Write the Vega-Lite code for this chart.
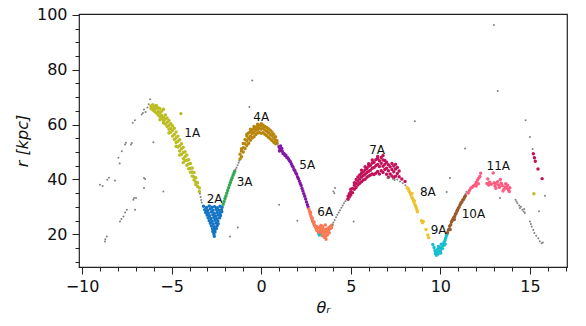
{
"$schema": "https://vega.github.io/schema/vega-lite/v6.json",
"width": 488, "height": 253,
"autosize": {"type": "none"},
"padding": {"left": 79, "top": 14, "right": 19, "bottom": 59},
"background": "white",
"config": {"view": {"stroke": "#222", "strokeWidth": 1.2}, "font": "DejaVu Sans"},
"datasets": {
"pts": [
{"t":-9.0,"r":38.1,"g":"x"},{"t":-8.85,"r":37.6,"g":"x"},{"t":-8.59,"r":39.9,"g":"x"},{"t":-8.5,"r":40.6,"g":"x"},{"t":-8.16,"r":39.6,"g":"x"},{"t":-7.97,"r":47.9,"g":"x"},{"t":-7.9,"r":45.8,"g":"x"},{"t":-7.78,"r":50.3,"g":"x"},{"t":-7.6,"r":52.7,"g":"x"},{"t":-7.55,"r":53.4,"g":"x"},{"t":-7.27,"r":52.7,"g":"x"},{"t":-7.22,"r":53.3,"g":"x"},{"t":-7.17,"r":60.7,"g":"x"},{"t":-7.05,"r":61.6,"g":"x"},{"t":-6.67,"r":63.7,"g":"x"},{"t":-6.6,"r":64.2,"g":"x"},{"t":-6.54,"r":65.5,"g":"x"},{"t":-6.45,"r":64.6,"g":"x"},{"t":-6.35,"r":66.2,"g":"x"},{"t":-6.28,"r":67.4,"g":"x"},{"t":-6.2,"r":69.2,"g":"x"},{"t":-6.15,"r":66.5,"g":"x"},
{"t":-8.72,"r":17.4,"g":"x"},{"t":-8.7,"r":18.2,"g":"x"},{"t":-8.62,"r":19.2,"g":"x"},{"t":-7.88,"r":24.7,"g":"x"},{"t":-7.8,"r":25.6,"g":"x"},{"t":-7.69,"r":26.5,"g":"x"},{"t":-7.6,"r":28,"g":"x"},{"t":-7.5,"r":29,"g":"x"},{"t":-7.14,"r":32.6,"g":"x"},{"t":-7.1,"r":33.2,"g":"x"},{"t":-7.04,"r":29,"g":"x"},{"t":-6.99,"r":33.2,"g":"x"},{"t":-6.54,"r":36.9,"g":"x"},{"t":-6.54,"r":40.5,"g":"x"},{"t":-6.48,"r":40.2,"g":"x"},{"t":-5.46,"r":35.6,"g":"x"},{"t":-6.02,"r":53.6,"g":"x"},
{"t":-6.15,"r":66.8,"g":"1A"},{"t":-6.15,"r":65.9,"g":"1A"},{"t":-6.05,"r":67.2,"g":"1A"},{"t":-6.05,"r":66.0,"g":"1A"},{"t":-6.05,"r":65.3,"g":"1A"},{"t":-5.95,"r":66.7,"g":"1A"},{"t":-5.95,"r":65.5,"g":"1A"},{"t":-5.95,"r":64.8,"g":"1A"},{"t":-5.85,"r":67.0,"g":"1A"},{"t":-5.85,"r":65.9,"g":"1A"},{"t":-5.85,"r":64.2,"g":"1A"},{"t":-5.75,"r":66.1,"g":"1A"},{"t":-5.75,"r":64.8,"g":"1A"},{"t":-5.75,"r":63.5,"g":"1A"},{"t":-5.65,"r":65.8,"g":"1A"},{"t":-5.65,"r":64.3,"g":"1A"},{"t":-5.65,"r":62.9,"g":"1A"},{"t":-5.65,"r":61.8,"g":"1A"},{"t":-5.55,"r":64.9,"g":"1A"},{"t":-5.55,"r":63.4,"g":"1A"},{"t":-5.55,"r":62.2,"g":"1A"},{"t":-5.45,"r":65.6,"g":"1A"},{"t":-5.45,"r":62.7,"g":"1A"},{"t":-5.45,"r":61.4,"g":"1A"},{"t":-5.45,"r":60.6,"g":"1A"},{"t":-5.35,"r":63.5,"g":"1A"},{"t":-5.35,"r":61.9,"g":"1A"},{"t":-5.35,"r":60.2,"g":"1A"},{"t":-5.25,"r":62.4,"g":"1A"},{"t":-5.25,"r":60.8,"g":"1A"},{"t":-5.25,"r":59.3,"g":"1A"},{"t":-5.15,"r":61.5,"g":"1A"},{"t":-5.15,"r":59.7,"g":"1A"},{"t":-5.15,"r":58.3,"g":"1A"},{"t":-5.15,"r":56.9,"g":"1A"},{"t":-5.05,"r":60.4,"g":"1A"},{"t":-5.05,"r":58.6,"g":"1A"},{"t":-5.05,"r":57.2,"g":"1A"},{"t":-4.95,"r":59.6,"g":"1A"},{"t":-4.95,"r":57.9,"g":"1A"},{"t":-4.95,"r":55.8,"g":"1A"},{"t":-4.85,"r":58.7,"g":"1A"},{"t":-4.85,"r":56.4,"g":"1A"},{"t":-4.85,"r":54.6,"g":"1A"},{"t":-4.75,"r":57.3,"g":"1A"},{"t":-4.75,"r":55.2,"g":"1A"},{"t":-4.75,"r":53.5,"g":"1A"},{"t":-4.75,"r":52.1,"g":"1A"},{"t":-4.65,"r":55.8,"g":"1A"},{"t":-4.65,"r":53.9,"g":"1A"},{"t":-4.65,"r":51.8,"g":"1A"},{"t":-4.55,"r":54.5,"g":"1A"},{"t":-4.55,"r":52.3,"g":"1A"},{"t":-4.55,"r":50.4,"g":"1A"},{"t":-4.55,"r":48.9,"g":"1A"},{"t":-4.45,"r":53.0,"g":"1A"},{"t":-4.45,"r":51.2,"g":"1A"},{"t":-4.45,"r":49.1,"g":"1A"},{"t":-4.35,"r":51.7,"g":"1A"},{"t":-4.35,"r":49.8,"g":"1A"},{"t":-4.35,"r":47.6,"g":"1A"},{"t":-4.35,"r":46.2,"g":"1A"},{"t":-4.25,"r":50.1,"g":"1A"},{"t":-4.25,"r":48.3,"g":"1A"},{"t":-4.25,"r":46.8,"g":"1A"},{"t":-4.15,"r":48.9,"g":"1A"},{"t":-4.15,"r":47.0,"g":"1A"},{"t":-4.15,"r":45.2,"g":"1A"},{"t":-4.05,"r":47.2,"g":"1A"},{"t":-4.05,"r":45.6,"g":"1A"},{"t":-4.05,"r":43.9,"g":"1A"},{"t":-3.95,"r":45.8,"g":"1A"},{"t":-3.95,"r":44.1,"g":"1A"},{"t":-3.95,"r":42.6,"g":"1A"},{"t":-3.85,"r":44.2,"g":"1A"},{"t":-3.85,"r":42.7,"g":"1A"},{"t":-3.85,"r":41.3,"g":"1A"},{"t":-3.75,"r":42.5,"g":"1A"},{"t":-3.75,"r":40.9,"g":"1A"},{"t":-3.75,"r":39.8,"g":"1A"},{"t":-3.65,"r":40.6,"g":"1A"},{"t":-3.65,"r":39.1,"g":"1A"},{"t":-3.65,"r":38.2,"g":"1A"},{"t":-3.55,"r":38.8,"g":"1A"},{"t":-3.55,"r":37.4,"g":"1A"},{"t":-3.45,"r":36.9,"g":"1A"},{"t":-3.45,"r":35.6,"g":"1A"},{"t":-4.48,"r":64.0,"g":"1A"},{"t":15.22,"r":34.8,"g":"1A"},
{"t":-3.42,"r":34.8,"g":"x"},{"t":-3.38,"r":33.6,"g":"x"},{"t":-3.35,"r":32.5,"g":"x"},{"t":-3.32,"r":31.6,"g":"x"},
{"t":-3.22,"r":30.2,"g":"2A"},{"t":-3.05,"r":29.8,"g":"2A"},{"t":-2.9,"r":30.3,"g":"2A"},{"t":-2.75,"r":29.9,"g":"2A"},{"t":-2.6,"r":30.1,"g":"2A"},{"t":-2.45,"r":29.7,"g":"2A"},{"t":-2.3,"r":30.2,"g":"2A"},{"t":-2.18,"r":29.9,"g":"2A"},
{"t":-3.15,"r":29.0,"g":"2A"},{"t":-3.0,"r":28.7,"g":"2A"},{"t":-2.85,"r":29.2,"g":"2A"},{"t":-2.7,"r":28.8,"g":"2A"},{"t":-2.52,"r":29.1,"g":"2A"},{"t":-2.38,"r":28.9,"g":"2A"},{"t":-2.22,"r":29.0,"g":"2A"},
{"t":-3.1,"r":28.0,"g":"2A"},{"t":-2.95,"r":27.8,"g":"2A"},{"t":-2.78,"r":28.1,"g":"2A"},{"t":-2.62,"r":27.7,"g":"2A"},{"t":-2.46,"r":28.0,"g":"2A"},{"t":-2.3,"r":27.9,"g":"2A"},{"t":-2.2,"r":28.2,"g":"2A"},
{"t":-3.02,"r":27.0,"g":"2A"},{"t":-2.88,"r":26.8,"g":"2A"},{"t":-2.7,"r":27.1,"g":"2A"},{"t":-2.55,"r":26.7,"g":"2A"},{"t":-2.4,"r":27.0,"g":"2A"},{"t":-2.27,"r":26.9,"g":"2A"},
{"t":-2.96,"r":26.0,"g":"2A"},{"t":-2.8,"r":25.8,"g":"2A"},{"t":-2.64,"r":26.1,"g":"2A"},{"t":-2.48,"r":25.7,"g":"2A"},{"t":-2.32,"r":26.0,"g":"2A"},
{"t":-2.9,"r":25.0,"g":"2A"},{"t":-2.74,"r":24.8,"g":"2A"},{"t":-2.58,"r":25.1,"g":"2A"},{"t":-2.42,"r":24.9,"g":"2A"},
{"t":-2.84,"r":24.0,"g":"2A"},{"t":-2.68,"r":23.8,"g":"2A"},{"t":-2.52,"r":24.1,"g":"2A"},{"t":-2.4,"r":23.9,"g":"2A"},
{"t":-2.78,"r":23.0,"g":"2A"},{"t":-2.62,"r":22.8,"g":"2A"},{"t":-2.46,"r":23.1,"g":"2A"},
{"t":-2.72,"r":22.0,"g":"2A"},{"t":-2.58,"r":21.8,"g":"2A"},{"t":-2.5,"r":22.1,"g":"2A"},
{"t":-2.7,"r":21.0,"g":"2A"},{"t":-2.58,"r":20.9,"g":"2A"},{"t":-2.64,"r":20.1,"g":"2A"},{"t":-2.62,"r":19.3,"g":"2A"},
{"t":-2.12,"r":31.0,"g":"3A"},{"t":-2.07,"r":32.0,"g":"3A"},{"t":-2.02,"r":33.1,"g":"3A"},{"t":-1.97,"r":34.0,"g":"3A"},{"t":-1.92,"r":35.0,"g":"3A"},{"t":-1.87,"r":36.0,"g":"3A"},{"t":-1.82,"r":37.0,"g":"3A"},{"t":-1.77,"r":38.0,"g":"3A"},{"t":-1.72,"r":38.9,"g":"3A"},{"t":-1.67,"r":39.8,"g":"3A"},{"t":-1.62,"r":40.6,"g":"3A"},{"t":-1.57,"r":41.5,"g":"3A"},{"t":-1.52,"r":42.3,"g":"3A"},{"t":-1.48,"r":43.0,"g":"3A"},
{"t":-1.43,"r":43.6,"g":"x"},{"t":-1.38,"r":44.3,"g":"x"},{"t":-1.32,"r":45.2,"g":"x"},{"t":-1.26,"r":46.1,"g":"x"},{"t":-1.22,"r":46.8,"g":"x"},
{"t":-1.18,"r":47.5,"g":"4A"},{"t":-1.18,"r":49.2,"g":"4A"},{"t":-1.1,"r":48.3,"g":"4A"},{"t":-1.1,"r":50.4,"g":"4A"},{"t":-1.1,"r":51.2,"g":"4A"},{"t":-1.0,"r":50.0,"g":"4A"},{"t":-1.0,"r":51.6,"g":"4A"},{"t":-1.0,"r":53.1,"g":"4A"},{"t":-0.9,"r":51.3,"g":"4A"},{"t":-0.9,"r":53.0,"g":"4A"},{"t":-0.9,"r":54.6,"g":"4A"},{"t":-0.8,"r":52.4,"g":"4A"},{"t":-0.8,"r":54.1,"g":"4A"},{"t":-0.8,"r":55.8,"g":"4A"},{"t":-0.8,"r":56.5,"g":"4A"},{"t":-0.7,"r":53.2,"g":"4A"},{"t":-0.7,"r":55.0,"g":"4A"},{"t":-0.7,"r":56.9,"g":"4A"},{"t":-0.6,"r":54.3,"g":"4A"},{"t":-0.6,"r":55.8,"g":"4A"},{"t":-0.6,"r":57.4,"g":"4A"},{"t":-0.6,"r":58.3,"g":"4A"},{"t":-0.5,"r":55.1,"g":"4A"},{"t":-0.5,"r":56.7,"g":"4A"},{"t":-0.5,"r":58.0,"g":"4A"},{"t":-0.4,"r":55.6,"g":"4A"},{"t":-0.4,"r":57.2,"g":"4A"},{"t":-0.4,"r":58.6,"g":"4A"},{"t":-0.4,"r":59.3,"g":"4A"},{"t":-0.3,"r":56.4,"g":"4A"},{"t":-0.3,"r":57.9,"g":"4A"},{"t":-0.3,"r":59.0,"g":"4A"},{"t":-0.2,"r":56.9,"g":"4A"},{"t":-0.2,"r":58.2,"g":"4A"},{"t":-0.2,"r":59.4,"g":"4A"},{"t":-0.2,"r":60.1,"g":"4A"},{"t":-0.1,"r":57.1,"g":"4A"},{"t":-0.1,"r":58.6,"g":"4A"},{"t":-0.1,"r":59.8,"g":"4A"},{"t":0.0,"r":56.8,"g":"4A"},{"t":0.0,"r":58.3,"g":"4A"},{"t":0.0,"r":59.5,"g":"4A"},{"t":0.0,"r":60.3,"g":"4A"},{"t":0.1,"r":57.0,"g":"4A"},{"t":0.1,"r":58.7,"g":"4A"},{"t":0.1,"r":59.9,"g":"4A"},{"t":0.2,"r":56.5,"g":"4A"},{"t":0.2,"r":58.0,"g":"4A"},{"t":0.2,"r":59.3,"g":"4A"},{"t":0.3,"r":56.0,"g":"4A"},{"t":0.3,"r":57.6,"g":"4A"},{"t":0.3,"r":58.9,"g":"4A"},{"t":0.4,"r":55.4,"g":"4A"},{"t":0.4,"r":57.0,"g":"4A"},{"t":0.4,"r":58.5,"g":"4A"},{"t":0.5,"r":54.8,"g":"4A"},{"t":0.5,"r":56.4,"g":"4A"},{"t":0.5,"r":57.9,"g":"4A"},{"t":0.6,"r":54.2,"g":"4A"},{"t":0.6,"r":55.9,"g":"4A"},{"t":0.6,"r":57.3,"g":"4A"},{"t":0.7,"r":53.6,"g":"4A"},{"t":0.7,"r":55.1,"g":"4A"},{"t":0.7,"r":56.5,"g":"4A"},{"t":0.8,"r":53.0,"g":"4A"},{"t":0.8,"r":54.4,"g":"4A"},{"t":0.8,"r":55.6,"g":"4A"},{"t":0.88,"r":53.2,"g":"4A"},{"t":0.88,"r":54.1,"g":"4A"},
{"t":0.92,"r":53.0,"g":"x"},{"t":0.96,"r":52.3,"g":"x"},
{"t":1.0,"r":51.8,"g":"5A"},{"t":1.05,"r":51.0,"g":"5A"},{"t":1.08,"r":52.2,"g":"5A"},{"t":1.12,"r":50.6,"g":"5A"},{"t":1.18,"r":50.3,"g":"5A"},{"t":1.22,"r":49.5,"g":"5A"},{"t":1.28,"r":49.4,"g":"5A"},{"t":1.33,"r":48.7,"g":"5A"},{"t":1.38,"r":48.8,"g":"5A"},{"t":1.43,"r":48.0,"g":"5A"},{"t":1.48,"r":47.9,"g":"5A"},{"t":1.53,"r":47.4,"g":"5A"},{"t":1.58,"r":46.8,"g":"5A"},{"t":1.63,"r":46.5,"g":"5A"},{"t":1.68,"r":45.7,"g":"5A"},{"t":1.73,"r":45.0,"g":"5A"},{"t":1.78,"r":44.5,"g":"5A"},{"t":1.83,"r":43.6,"g":"5A"},{"t":1.88,"r":43.2,"g":"5A"},{"t":1.93,"r":42.4,"g":"5A"},{"t":1.98,"r":41.9,"g":"5A"},{"t":2.03,"r":40.9,"g":"5A"},{"t":2.08,"r":40.3,"g":"5A"},{"t":2.13,"r":39.4,"g":"5A"},{"t":2.18,"r":38.5,"g":"5A"},{"t":2.23,"r":37.8,"g":"5A"},{"t":2.28,"r":36.7,"g":"5A"},{"t":2.33,"r":35.8,"g":"5A"},{"t":2.38,"r":34.8,"g":"5A"},{"t":2.43,"r":33.9,"g":"5A"},{"t":2.48,"r":32.9,"g":"5A"},{"t":2.53,"r":31.8,"g":"5A"},{"t":2.58,"r":30.8,"g":"5A"},{"t":2.62,"r":30.0,"g":"5A"},{"t":1.02,"r":50.4,"g":"5A"},{"t":1.15,"r":51.3,"g":"5A"},
{"t":2.66,"r":29.2,"g":"6A"},{"t":2.7,"r":28.3,"g":"6A"},{"t":2.74,"r":27.4,"g":"6A"},{"t":2.78,"r":26.6,"g":"6A"},{"t":2.82,"r":25.8,"g":"6A"},{"t":2.86,"r":25.0,"g":"6A"},{"t":2.9,"r":24.4,"g":"6A"},{"t":2.94,"r":23.8,"g":"6A"},{"t":2.98,"r":23.2,"g":"6A"},{"t":2.75,"r":28.0,"g":"6A"},{"t":2.85,"r":26.0,"g":"6A"},{"t":2.95,"r":24.5,"g":"6A"},
{"t":3.02,"r":22.8,"g":"6A"},{"t":3.06,"r":22.1,"g":"6A"},{"t":3.1,"r":22.9,"g":"6A"},{"t":3.1,"r":21.5,"g":"6A"},{"t":3.15,"r":22.4,"g":"6A"},{"t":3.18,"r":21.0,"g":"6A"},{"t":3.2,"r":20.4,"g":"6A"},{"t":3.25,"r":22.6,"g":"6A"},{"t":3.28,"r":21.4,"g":"6A"},{"t":3.3,"r":20.2,"g":"6A"},{"t":3.35,"r":21.9,"g":"6A"},{"t":3.38,"r":20.8,"g":"6A"},{"t":3.4,"r":19.6,"g":"6A"},{"t":3.45,"r":22.3,"g":"6A"},{"t":3.47,"r":21.2,"g":"6A"},{"t":3.5,"r":20.1,"g":"6A"},{"t":3.52,"r":18.9,"g":"6A"},{"t":3.55,"r":21.6,"g":"6A"},{"t":3.57,"r":20.6,"g":"6A"},{"t":3.6,"r":19.3,"g":"6A"},{"t":3.62,"r":18.2,"g":"6A"},{"t":3.65,"r":22.0,"g":"6A"},{"t":3.68,"r":20.9,"g":"6A"},{"t":3.7,"r":19.8,"g":"6A"},{"t":3.75,"r":21.4,"g":"6A"},{"t":3.78,"r":22.5,"g":"6A"},{"t":3.8,"r":20.6,"g":"6A"},{"t":3.85,"r":22.0,"g":"6A"},{"t":3.88,"r":23.0,"g":"6A"},{"t":3.92,"r":22.4,"g":"6A"},{"t":3.95,"r":23.3,"g":"6A"},{"t":3.42,"r":23.0,"g":"6A"},{"t":3.33,"r":23.2,"g":"6A"},{"t":3.58,"r":23.4,"g":"6A"},
{"t":3.98,"r":23.6,"g":"x"},{"t":4.03,"r":24.3,"g":"x"},{"t":4.1,"r":25.2,"g":"x"},{"t":4.18,"r":26.2,"g":"x"},{"t":4.25,"r":27.1,"g":"x"},{"t":4.33,"r":28.0,"g":"x"},{"t":4.4,"r":28.8,"g":"x"},{"t":4.48,"r":29.7,"g":"x"},{"t":4.55,"r":30.5,"g":"x"},{"t":4.62,"r":31.3,"g":"x"},{"t":4.7,"r":32.1,"g":"x"},{"t":4.77,"r":32.8,"g":"x"},{"t":4.03,"r":35.6,"g":"x"},{"t":4.12,"r":36.9,"g":"x"},{"t":4.08,"r":35.0,"g":"x"},{"t":5.16,"r":24.7,"g":"x"},{"t":2.02,"r":25.0,"g":"x"},{"t":1.0,"r":30.8,"g":"x"},{"t":-1.74,"r":19.2,"g":"x"},{"t":-1.31,"r":22.5,"g":"x"},{"t":-0.5,"r":76.1,"g":"x"},{"t":-0.66,"r":66.4,"g":"x"},
{"t":4.85,"r":32.8,"g":"7A"},{"t":4.85,"r":33.9,"g":"7A"},{"t":4.92,"r":33.6,"g":"7A"},{"t":4.92,"r":34.8,"g":"7A"},{"t":5.0,"r":34.3,"g":"7A"},{"t":5.0,"r":35.5,"g":"7A"},{"t":5.0,"r":36.4,"g":"7A"},{"t":5.1,"r":35.2,"g":"7A"},{"t":5.1,"r":36.7,"g":"7A"},{"t":5.2,"r":36.4,"g":"7A"},{"t":5.2,"r":37.9,"g":"7A"},{"t":5.2,"r":38.8,"g":"7A"},{"t":5.3,"r":37.1,"g":"7A"},{"t":5.3,"r":38.6,"g":"7A"},{"t":5.3,"r":40.0,"g":"7A"},{"t":5.4,"r":38.0,"g":"7A"},{"t":5.4,"r":39.4,"g":"7A"},{"t":5.4,"r":40.9,"g":"7A"},{"t":5.5,"r":38.6,"g":"7A"},{"t":5.5,"r":40.2,"g":"7A"},{"t":5.5,"r":41.6,"g":"7A"},{"t":5.6,"r":39.2,"g":"7A"},{"t":5.6,"r":40.9,"g":"7A"},{"t":5.6,"r":42.3,"g":"7A"},{"t":5.6,"r":43.4,"g":"7A"},{"t":5.7,"r":39.8,"g":"7A"},{"t":5.7,"r":41.4,"g":"7A"},{"t":5.7,"r":42.8,"g":"7A"},{"t":5.8,"r":40.1,"g":"7A"},{"t":5.8,"r":41.9,"g":"7A"},{"t":5.8,"r":43.5,"g":"7A"},{"t":5.8,"r":44.6,"g":"7A"},{"t":5.9,"r":40.8,"g":"7A"},{"t":5.9,"r":42.5,"g":"7A"},{"t":5.9,"r":44.0,"g":"7A"},{"t":6.0,"r":41.3,"g":"7A"},{"t":6.0,"r":43.0,"g":"7A"},{"t":6.0,"r":44.8,"g":"7A"},{"t":6.0,"r":45.7,"g":"7A"},{"t":6.1,"r":41.6,"g":"7A"},{"t":6.1,"r":43.4,"g":"7A"},{"t":6.1,"r":45.2,"g":"7A"},{"t":6.2,"r":42.0,"g":"7A"},{"t":6.2,"r":44.1,"g":"7A"},{"t":6.2,"r":46.0,"g":"7A"},{"t":6.2,"r":47.1,"g":"7A"},{"t":6.3,"r":41.8,"g":"7A"},{"t":6.3,"r":44.4,"g":"7A"},{"t":6.3,"r":46.3,"g":"7A"},{"t":6.4,"r":42.3,"g":"7A"},{"t":6.4,"r":45.0,"g":"7A"},{"t":6.4,"r":47.2,"g":"7A"},{"t":6.5,"r":42.9,"g":"7A"},{"t":6.5,"r":45.5,"g":"7A"},{"t":6.5,"r":47.6,"g":"7A"},{"t":6.5,"r":48.4,"g":"7A"},{"t":6.6,"r":42.0,"g":"7A"},{"t":6.6,"r":44.7,"g":"7A"},{"t":6.6,"r":46.8,"g":"7A"},{"t":6.7,"r":43.2,"g":"7A"},{"t":6.7,"r":45.9,"g":"7A"},{"t":6.7,"r":48.0,"g":"7A"},{"t":6.8,"r":42.5,"g":"7A"},{"t":6.8,"r":44.8,"g":"7A"},{"t":6.8,"r":47.1,"g":"7A"},{"t":6.8,"r":48.7,"g":"7A"},{"t":6.9,"r":43.6,"g":"7A"},{"t":6.9,"r":45.5,"g":"7A"},{"t":6.9,"r":46.9,"g":"7A"},{"t":7.0,"r":41.9,"g":"7A"},{"t":7.0,"r":44.1,"g":"7A"},{"t":7.0,"r":46.3,"g":"7A"},{"t":7.1,"r":40.8,"g":"7A"},{"t":7.1,"r":43.2,"g":"7A"},{"t":7.1,"r":45.4,"g":"7A"},{"t":7.2,"r":42.0,"g":"7A"},{"t":7.2,"r":44.6,"g":"7A"},{"t":7.3,"r":41.3,"g":"7A"},{"t":7.3,"r":43.6,"g":"7A"},{"t":7.3,"r":45.8,"g":"7A"},{"t":7.4,"r":40.6,"g":"7A"},{"t":7.4,"r":42.8,"g":"7A"},{"t":7.4,"r":44.9,"g":"7A"},{"t":7.5,"r":41.2,"g":"7A"},{"t":7.5,"r":43.8,"g":"7A"},{"t":7.5,"r":45.5,"g":"7A"},{"t":7.6,"r":42.2,"g":"7A"},{"t":7.6,"r":44.4,"g":"7A"},{"t":7.7,"r":41.0,"g":"7A"},{"t":7.7,"r":43.1,"g":"7A"},{"t":7.85,"r":40.2,"g":"7A"},{"t":8.03,"r":39.3,"g":"7A"},
{"t":15.19,"r":49.4,"g":"7A"},{"t":15.25,"r":47.9,"g":"7A"},{"t":15.3,"r":46.6,"g":"7A"},{"t":15.45,"r":43.8,"g":"7A"},{"t":15.68,"r":40.3,"g":"7A"},
{"t":7.05,"r":40.5,"g":"x"},{"t":7.19,"r":41.1,"g":"x"},{"t":7.35,"r":40.3,"g":"x"},{"t":7.45,"r":39.8,"g":"x"},{"t":7.6,"r":40.0,"g":"x"},{"t":7.75,"r":39.3,"g":"x"},{"t":7.9,"r":38.6,"g":"x"},{"t":8.05,"r":37.9,"g":"x"},
{"t":8.15,"r":37.0,"g":"8A"},{"t":8.22,"r":36.5,"g":"8A"},{"t":8.25,"r":35.8,"g":"8A"},{"t":8.3,"r":35.3,"g":"8A"},{"t":8.35,"r":34.5,"g":"8A"},{"t":8.4,"r":33.6,"g":"8A"},{"t":8.45,"r":33.1,"g":"8A"},{"t":8.49,"r":32.6,"g":"8A"},{"t":8.52,"r":31.8,"g":"8A"},{"t":8.58,"r":30.9,"g":"8A"},{"t":8.62,"r":30.2,"g":"8A"},{"t":8.66,"r":29.6,"g":"8A"},{"t":8.7,"r":28.9,"g":"8A"},{"t":8.72,"r":28.2,"g":"8A"},{"t":8.95,"r":25.0,"g":"8A"},{"t":9.05,"r":24.7,"g":"8A"},{"t":9.0,"r":24.2,"g":"8A"},{"t":9.2,"r":21.8,"g":"8A"},{"t":9.3,"r":19.8,"g":"8A"},{"t":9.35,"r":18.8,"g":"8A"},{"t":8.55,"r":32.2,"g":"8A"},{"t":8.42,"r":34.9,"g":"8A"},
{"t":9.58,"r":16.3,"g":"9A"},{"t":9.65,"r":15.2,"g":"9A"},{"t":9.7,"r":14.1,"g":"9A"},{"t":9.72,"r":13.0,"g":"9A"},{"t":9.78,"r":12.4,"g":"9A"},{"t":9.8,"r":13.6,"g":"9A"},{"t":9.85,"r":14.6,"g":"9A"},{"t":9.88,"r":12.8,"g":"9A"},{"t":9.92,"r":13.9,"g":"9A"},{"t":9.95,"r":15.2,"g":"9A"},{"t":10.0,"r":14.0,"g":"9A"},{"t":10.02,"r":13.2,"g":"9A"},{"t":10.06,"r":15.0,"g":"9A"},{"t":10.1,"r":16.2,"g":"9A"},{"t":10.12,"r":14.8,"g":"9A"},{"t":10.15,"r":15.8,"g":"9A"},{"t":10.2,"r":17.0,"g":"9A"},{"t":10.22,"r":16.1,"g":"9A"},{"t":10.26,"r":17.8,"g":"9A"},{"t":10.3,"r":18.6,"g":"9A"},{"t":10.33,"r":19.4,"g":"9A"},{"t":10.37,"r":20.0,"g":"9A"},{"t":10.27,"r":16.5,"g":"9A"},{"t":9.9,"r":15.6,"g":"9A"},{"t":10.05,"r":16.4,"g":"9A"},{"t":3.24,"r":19.8,"g":"9A"},
{"t":10.4,"r":20.6,"g":"10A"},{"t":10.45,"r":21.6,"g":"10A"},{"t":10.5,"r":22.0,"g":"10A"},{"t":10.52,"r":23.0,"g":"10A"},{"t":10.58,"r":23.5,"g":"10A"},{"t":10.62,"r":24.5,"g":"10A"},{"t":10.66,"r":25.0,"g":"10A"},{"t":10.7,"r":25.5,"g":"10A"},{"t":10.75,"r":26.1,"g":"10A"},{"t":10.8,"r":26.5,"g":"10A"},{"t":10.84,"r":27.3,"g":"10A"},{"t":10.88,"r":27.7,"g":"10A"},{"t":10.92,"r":28.4,"g":"10A"},{"t":10.96,"r":28.9,"g":"10A"},{"t":11.0,"r":29.5,"g":"10A"},{"t":11.05,"r":30.0,"g":"10A"},{"t":11.1,"r":30.8,"g":"10A"},{"t":11.15,"r":31.4,"g":"10A"},{"t":11.2,"r":31.8,"g":"10A"},{"t":11.25,"r":32.5,"g":"10A"},{"t":11.3,"r":32.8,"g":"10A"},{"t":11.35,"r":33.5,"g":"10A"},{"t":11.4,"r":34.1,"g":"10A"},{"t":10.55,"r":21.8,"g":"10A"},{"t":10.78,"r":25.4,"g":"10A"},
{"t":11.42,"r":34.8,"g":"x"},{"t":11.46,"r":35.5,"g":"x"},{"t":10.54,"r":40.5,"g":"x"},{"t":10.35,"r":35.4,"g":"x"},{"t":11.38,"r":51.3,"g":"x"},{"t":8.58,"r":61.2,"g":"x"},
{"t":11.56,"r":35.1,"g":"11A"},{"t":11.62,"r":36.0,"g":"11A"},{"t":11.7,"r":36.8,"g":"11A"},{"t":11.78,"r":37.2,"g":"11A"},{"t":11.85,"r":37.6,"g":"11A"},{"t":11.93,"r":38.1,"g":"11A"},{"t":12.0,"r":39.0,"g":"11A"},{"t":12.08,"r":39.8,"g":"11A"},{"t":12.15,"r":40.5,"g":"11A"},{"t":12.21,"r":41.1,"g":"11A"},{"t":12.25,"r":42.3,"g":"11A"},{"t":12.0,"r":37.6,"g":"11A"},{"t":12.12,"r":38.4,"g":"11A"},
{"t":12.6,"r":38.5,"g":"11A"},{"t":12.7,"r":38.0,"g":"11A"},{"t":12.75,"r":39.0,"g":"11A"},{"t":12.85,"r":38.3,"g":"11A"},{"t":12.95,"r":42.4,"g":"11A"},{"t":13.0,"r":38.8,"g":"11A"},{"t":13.05,"r":37.6,"g":"11A"},{"t":13.1,"r":38.5,"g":"11A"},{"t":13.2,"r":39.2,"g":"11A"},{"t":13.25,"r":38.0,"g":"11A"},{"t":13.3,"r":37.2,"g":"11A"},{"t":13.4,"r":38.6,"g":"11A"},{"t":13.45,"r":37.8,"g":"11A"},{"t":13.55,"r":36.4,"g":"11A"},{"t":13.6,"r":37.3,"g":"11A"},{"t":13.65,"r":38.4,"g":"11A"},{"t":13.7,"r":36.9,"g":"11A"},{"t":13.75,"r":37.9,"g":"11A"},{"t":13.8,"r":36.2,"g":"11A"},{"t":13.85,"r":35.6,"g":"11A"},{"t":13.88,"r":37.0,"g":"11A"},{"t":13.5,"r":35.8,"g":"11A"},{"t":13.1,"r":36.8,"g":"11A"},{"t":12.65,"r":40.2,"g":"11A"},{"t":13.35,"r":40.0,"g":"11A"},
{"t":14.2,"r":32.6,"g":"x"},{"t":14.25,"r":32.0,"g":"x"},{"t":14.3,"r":31.3,"g":"x"},{"t":14.4,"r":30.5,"g":"x"},{"t":14.44,"r":29.6,"g":"x"},{"t":14.5,"r":30.1,"g":"x"},{"t":14.58,"r":29.0,"g":"x"},{"t":14.65,"r":28.3,"g":"x"},{"t":14.72,"r":27.8,"g":"x"},{"t":14.68,"r":29.2,"g":"x"},{"t":15.0,"r":24.7,"g":"x"},{"t":15.05,"r":23.8,"g":"x"},{"t":15.1,"r":22.9,"g":"x"},{"t":15.19,"r":21.6,"g":"x"},{"t":15.25,"r":20.5,"g":"x"},{"t":15.35,"r":19.5,"g":"x"},{"t":15.47,"r":18.6,"g":"x"},{"t":15.55,"r":17.5,"g":"x"},{"t":15.65,"r":16.8,"g":"x"},{"t":15.72,"r":17.0,"g":"x"},{"t":15.84,"r":34.1,"g":"x"},{"t":15.51,"r":28.4,"g":"x"},{"t":13.33,"r":33.2,"g":"x"},{"t":12.99,"r":96.3,"g":"x"},{"t":13.2,"r":72.2,"g":"x"},{"t":14.76,"r":61.6,"g":"x"},{"t":15.0,"r":55.5,"g":"x"},{"t":15.15,"r":51.1,"g":"x"}
],
"lbl": [
{"t":-4.29,"r":57.1,"s":"1A"},{"t":-3.04,"r":33.0,"s":"2A"},{"t":-1.37,"r":38.9,"s":"3A"},{"t":-0.44,"r":62.9,"s":"4A"},{"t":2.13,"r":45.2,"s":"5A"},{"t":3.13,"r":28.0,"s":"6A"},{"t":6.03,"r":50.9,"s":"7A"},{"t":8.86,"r":35.4,"s":"8A"},{"t":9.46,"r":21.6,"s":"9A"},{"t":11.19,"r":27.5,"s":"10A"},{"t":12.58,"r":44.8,"s":"11A"}
]
},
"resolve": {"axis": {"x": "independent", "y": "independent"}},
"layer": [
{
"data": {"name": "pts"},
"mark": {"type": "circle", "opacity": 1},
"encoding": {
"x": {"field": "t", "type": "quantitative",
 "scale": {"domain": [-10.17, 17.07], "nice": false, "zero": false},
 "axis": {"orient": "bottom", "title": "θᵣ", "values": [-10,-9,-8,-7,-6,-5,-4,-3,-2,-1,0,1,2,3,4,5,6,7,8,9,10,11,12,13,14,15,16,17],
  "labelExpr": "datum.value % 5 === 0 ? datum.label : ''",
  "tickSize": {"condition": {"test": "datum.value % 5 === 0", "value": 7}, "value": 4},
  "labelOverlap": false, "labelFlush": false, "labelPadding": 4, "labelFontSize": 16, "labelColor": "#111",
  "domain": false, "grid": false, "tickColor": "#222", "tickWidth": 1,
  "titleFontSize": 16, "titleFontWeight": "normal", "titleFontStyle": "italic", "titleColor": "#111", "titlePadding": 5}},
"y": {"field": "r", "type": "quantitative",
 "scale": {"domain": [8.1, 100.3], "nice": false, "zero": false},
 "axis": {"orient": "left", "title": "r [kpc]", "values": [10,15,20,25,30,35,40,45,50,55,60,65,70,75,80,85,90,95,100],
  "labelExpr": "datum.value % 20 === 0 ? datum.label : ''",
  "tickSize": {"condition": {"test": "datum.value % 20 === 0", "value": 7}, "value": 4},
  "labelOverlap": false, "labelFlush": false, "labelPadding": 5, "labelFontSize": 16, "labelColor": "#111",
  "domain": false, "grid": false, "tickColor": "#222", "tickWidth": 1,
  "titleFontSize": 16, "titleFontWeight": "normal", "titleFontStyle": "italic", "titleColor": "#111", "titlePadding": 6}},
"color": {"field": "g", "type": "nominal", "legend": null,
 "scale": {"domain": ["x","1A","2A","3A","4A","5A","6A","7A","8A","9A","10A","11A"],
  "range": ["#808080","#bcbd22","#1474c4","#35a853","#b8860b","#8419a8","#fa7a55","#c2125a","#f2c12e","#17becf","#9c5a2c","#ff5a80"]}},
"size": {"condition": {"test": "datum.g === 'x'", "value": 4}, "value": 12}
}
},
{
"data": {"name": "lbl"},
"mark": {"type": "text", "align": "left", "baseline": "middle", "fontSize": 12, "font": "DejaVu Sans", "color": "#111"},
"encoding": {
"x": {"field": "t", "type": "quantitative", "axis": null},
"y": {"field": "r", "type": "quantitative", "axis": null},
"text": {"field": "s"}
}
}
]
}
